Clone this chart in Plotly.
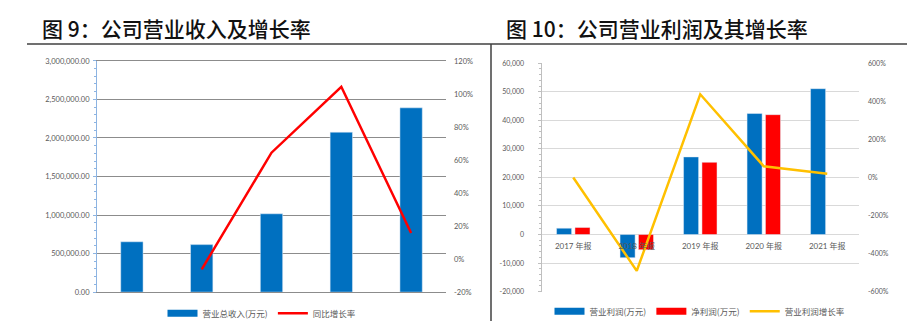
import plotly.graph_objects as go

W, H = 909, 328

# ---------------- data ----------------
years = ["2017 年报", "2018 年报", "2019 年报", "2020 年报", "2021 年报"]

revenue = [653000, 616000, 1016000, 2075000, 2391000]          # 营业总收入(万元)
revenue_growth = [None, -6.2, 64.4, 104.3, 15.8]                # 同比增长率 (%)

op_profit = [2230, -8100, 27200, 42400, 51100]                  # 营业利润(万元)
net_profit = [2470, -5300, 25300, 42000, None]                  # 净利润(万元)
op_growth = [0, -491, 437, 59, 20]                              # 营业利润增长率 (%)

left_ticks = [0, 500000, 1000000, 1500000, 2000000, 2500000, 3000000]
left_ticktext = ["0.00", "500,000.00", "1,000,000.00", "1,500,000.00",
                 "2,000,000.00", "2,500,000.00", "3,000,000.00"]
left_pct_ticks = [-20, 0, 20, 40, 60, 80, 100, 120]
left_pct_text = ["-20%", "0%", "20%", "40%", "60%", "80%", "100%", "120%"]

right_ticks = [-20000, -10000, 0, 10000, 20000, 30000, 40000, 50000, 60000]
right_ticktext = ["-20,000", "-10,000", "0", "10,000", "20,000", "30,000",
                  "40,000", "50,000", "60,000"]
right_pct_ticks = [-600, -400, -200, 0, 200, 400, 600]
right_pct_text = ["-600%", "-400%", "-200%", "0%", "200%", "400%", "600%"]

title_left = "图 9：公司营业收入及增长率"
title_right = "图 10：公司营业利润及其增长率"

# ---------------- styles ----------------
BLUE = "#0070C0"
RED = "#FF0000"
YELLOW = "#FFC000"
TXT = "#595959"
FONT = "Lato, Noto Sans CJK SC, sans-serif"
CJK = "Noto Sans CJK SC, sans-serif"


def px_x(p):
    return p / W


def px_y(p):
    return 1 - p / H


# plot-area geometry (pixels)
L_x0, L_x1, L_top, L_bot = 97, 446, 58, 298
R_x0, R_x1, R_top, R_bot = 541.5, 859, 60.5, 297.5

L_ydom = [px_y(L_bot), px_y(L_top)]
R_ydom = [px_y(R_bot), px_y(R_top)]
R_range = [-20000, 60000]
zero_pos = R_ydom[0] + (0 - R_range[0]) / (R_range[1] - R_range[0]) * (R_ydom[1] - R_ydom[0])

fig = go.Figure()

# left chart
fig.add_trace(go.Bar(x=years, y=revenue, name="营业总收入(万元)", marker_color=BLUE,
                     width=0.32, xaxis="x", yaxis="y", showlegend=False))
fig.add_trace(go.Scatter(x=[None], y=[None], name="营业总收入(万元)", mode="lines",
                         line=dict(color=BLUE, width=7), xaxis="x", yaxis="y",
                         legend="legend", hoverinfo="skip"))
fig.add_trace(go.Scatter(x=years, y=revenue_growth, name="同比增长率", mode="lines",
                         line=dict(color=RED, width=2.5), xaxis="x", yaxis="y2",
                         legend="legend"))

# right chart
fig.add_trace(go.Bar(x=years, y=op_profit, name="营业利润(万元)", marker_color=BLUE,
                     width=0.237, offset=-0.263, xaxis="x2", yaxis="y3", showlegend=False))
fig.add_trace(go.Bar(x=years, y=net_profit, name="净利润(万元)", marker_color=RED,
                     width=0.237, offset=0.027, xaxis="x2", yaxis="y3", showlegend=False))
fig.add_trace(go.Scatter(x=[None], y=[None], name="营业利润(万元)", mode="lines",
                         line=dict(color=BLUE, width=7), xaxis="x2", yaxis="y3",
                         legend="legend2", hoverinfo="skip"))
fig.add_trace(go.Scatter(x=[None], y=[None], name="净利润(万元)", mode="lines",
                         line=dict(color=RED, width=7), xaxis="x2", yaxis="y3",
                         legend="legend2", hoverinfo="skip"))
fig.add_trace(go.Scatter(x=years, y=op_growth, name="营业利润增长率", mode="lines",
                         line=dict(color=YELLOW, width=2.5), xaxis="x2", yaxis="y4",
                         legend="legend2"))

fig.update_layout(
    width=W, height=H,
    margin=dict(l=0, r=0, t=0, b=0),
    paper_bgcolor="white", plot_bgcolor="white",
    barmode="overlay",
    font=dict(family=FONT, color=TXT),
    xaxis=dict(domain=[px_x(L_x0), px_x(L_x1)], anchor="y", type="category",
               categoryorder="array", categoryarray=years,
               showticklabels=False, ticks="", showgrid=False,
               showline=True, mirror=True, linecolor="#8C8C8C", linewidth=1,
               zeroline=False),
    yaxis=dict(domain=L_ydom, anchor="x", range=[0, 3000000],
               tickmode="array", tickvals=left_ticks, ticktext=left_ticktext,
               tickfont=dict(size=7.5, color=TXT),
               showgrid=True, gridcolor="#8C8C8C", gridwidth=1, zeroline=False,
               showline=True, linecolor="#8DB4E2", linewidth=1,
               ticks="outside", ticklen=3, tickcolor="#8DB4E2",
               ticklabelstandoff=2,
               minor=dict(ticks="outside", ticklen=2, tickcolor="#8DB4E2",
                          tick0=0, dtick=100000, showgrid=False)),
    yaxis2=dict(overlaying="y", side="right", anchor="x", range=[-20, 120],
                tickmode="array", tickvals=left_pct_ticks, ticktext=left_pct_text,
                tickfont=dict(size=7.5, color=TXT), showgrid=False, zeroline=False,
                showline=False, ticks="", ticklabelstandoff=7),
    xaxis2=dict(domain=[px_x(R_x0), px_x(R_x1)], anchor="free", position=zero_pos,
                type="category", categoryorder="array", categoryarray=years,
                ticks="", showgrid=False, showline=False,
                zeroline=False, tickfont=dict(size=8, color=TXT),
                ticklabelstandoff=5),
    yaxis3=dict(domain=R_ydom, anchor="x2", range=R_range,
                tickmode="array", tickvals=right_ticks, ticktext=right_ticktext,
                tickfont=dict(size=7, color=TXT),
                showgrid=True, gridcolor="#D9D9D9", gridwidth=1, zeroline=False,
                showline=True, linecolor="#BFBFBF", linewidth=1,
                ticks="outside", ticklen=3, tickcolor="#BFBFBF",
                ticklabelstandoff=12,
                minor=dict(ticks="outside", ticklen=2, tickcolor="#BFBFBF",
                           tick0=0, dtick=2000, showgrid=False)),
    yaxis4=dict(overlaying="y3", side="right", anchor="x2", range=[-600, 600],
                tickmode="array", tickvals=right_pct_ticks, ticktext=right_pct_text,
                tickfont=dict(size=7, color=TXT), showgrid=False, zeroline=False,
                showline=False, ticks="", ticklabelstandoff=8),
    legend=dict(orientation="h", x=px_x(262), y=px_y(320), xanchor="center",
                yanchor="middle", font=dict(size=8.5, color=TXT, family=CJK),
                bgcolor="rgba(0,0,0,0)", itemwidth=30, tracegroupgap=0),
    legend2=dict(orientation="h", x=px_x(700), y=px_y(318), xanchor="center",
                 yanchor="middle", font=dict(size=8.5, color=TXT, family=CJK),
                 bgcolor="rgba(0,0,0,0)", itemwidth=30, tracegroupgap=0),
    showlegend=True,
)

# titles
fig.add_annotation(text=title_left, x=px_x(40), y=px_y(23.5), xref="paper", yref="paper",
                   xanchor="left", yanchor="middle", showarrow=False,
                   font=dict(size=21, color="#111111", family=CJK, weight=500))
fig.add_annotation(text=title_right, x=px_x(504), y=px_y(23.5), xref="paper", yref="paper",
                   xanchor="left", yanchor="middle", showarrow=False,
                   font=dict(size=21, color="#111111", family=CJK, weight=500))

# separator rules
fig.add_shape(type="line", xref="paper", yref="paper", x0=px_x(27), x1=px_x(907),
              y0=px_y(40.5), y1=px_y(40.5), line=dict(color="#404040", width=1.5))
fig.add_shape(type="line", xref="paper", yref="paper", x0=px_x(491), x1=px_x(491),
              y0=px_y(40.5), y1=0, line=dict(color="#404040", width=1.5))

fig.write_html("out.html", config={"displayModeBar": False})
